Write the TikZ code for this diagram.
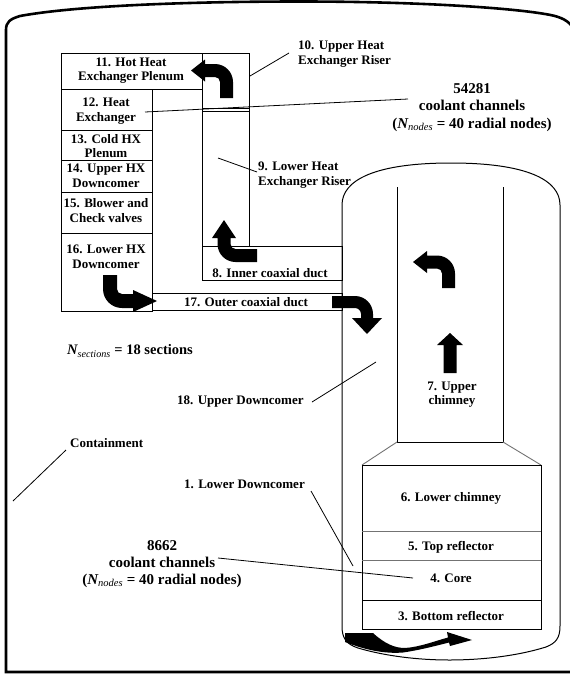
\documentclass[tikz,border=0pt]{standalone}
\usepackage{fontspec}
\setmainfont{Liberation Serif}
\newcommand\Nsub[1]{{\itshape N}\textsubscript{\mdseries\itshape #1}}
\begin{document}
\begin{tikzpicture}[x=1pt,y=-1pt,
  lbl/.style={font=\bfseries\fontsize{13}{14.5}\selectfont, inner sep=0pt, align=center},
  biglbl/.style={font=\bfseries\fontsize{15}{17.2}\selectfont, inner sep=0pt, align=center},
  flow/.style={fill=black, draw=none},
  wall/.style={draw=black, line width=1pt},
  thinwall/.style={draw=black, line width=0.7pt},
  grayline/.style={draw=black!55, line width=0.9pt},
  cont/.style={draw=black, line width=2.6pt},
  lead/.style={draw=black, line width=0.8pt}
]
\useasboundingbox (0,0) rectangle (570,675);
\clip (0,0) rectangle (570,675);

% containment
\draw[cont] (572,26) .. controls (566,19) and (558,16) .. (545,14)
  .. controls (510,8) and (420,1.5) .. (300,1.5)
  .. controls (200,1.5) and (80,5) .. (20,16)
  .. controls (10,19) and (6,22) .. (6,30) -- (6,672) -- (574,672);

% heat exchanger loop boxes
\draw[wall] (61,53) rectangle (202,89);
\draw[wall] (202,53) rectangle (249,246);
\draw[thinwall] (202,108) -- (249,108);
\draw[thinwall] (202,111) -- (249,111);
\draw[wall] (61,89) rectangle (152,130);
\draw[wall] (61,130) rectangle (152,160);
\draw[wall] (61,160) rectangle (152,192);
\draw[wall] (61,192) rectangle (152,233);
\draw[wall] (61,233) rectangle (152,311);
\draw[wall] (202,246) rectangle (342,280);
\draw[wall] (152,293) rectangle (342,310);

% vessel
\draw[wall] (342,626) -- (342,205) .. controls (342,180) and (375,163) .. (451,163)
  .. controls (527,163) and (560,180) .. (560,205) -- (560,626)
  .. controls (560,638) and (556,643) .. (546,647)
  .. controls (517,656) and (482,660) .. (449,660)
  .. controls (418,660) and (385,656) .. (358,648)
  .. controls (346,644) and (342,638) .. (342,626) -- cycle;
\draw[wall] (397,187) -- (397,442) -- (503,442) -- (503,187);
\draw[grayline] (397,442) -- (362,465);
\draw[grayline] (503,442) -- (541,465);
\draw[wall] (362,465) rectangle (541,629);
\draw[grayline] (362,531) -- (541,531);
\draw[grayline] (362,560) -- (541,560);
\draw[wall] (362,600) -- (541,600);

% flow arrows
\fill[flow] (220,98) -- (233,98) -- (233,82) .. controls (233,72.06) and (224.94,64) .. (215,64)
  -- (205,64) -- (205,59.5) -- (191,70.5) -- (205,81.5) -- (205,77) -- (215,77)
  .. controls (217.76,77) and (220,79.24) .. (220,82) -- cycle;
\fill[flow] (257,249) -- (257,262) -- (235.5,262) .. controls (225.56,262) and (217.5,253.94) .. (217.5,244)
  -- (217.5,238) -- (212,238) -- (224,220) -- (236,238) -- (230.5,238) -- (230.5,244)
  .. controls (230.5,246.76) and (232.74,249) .. (235.5,249) -- cycle;
\fill[flow] (103,275) -- (117,275) -- (117,289) .. controls (117,291.76) and (119.24,294) .. (122,294)
  -- (133,294) -- (133,290) -- (157,301) -- (133,312) -- (133,308) -- (122,308)
  .. controls (111.51,308) and (103,299.49) .. (103,289) -- cycle;
\fill[flow] (332,296) -- (355,296) .. controls (364.94,296) and (373,304.06) .. (373,314)
  -- (373,318) -- (382,318) -- (367,334) -- (352,318) -- (361,318) -- (361,314)
  .. controls (361,310.69) and (358.31,308) .. (355,308) -- (332,308) -- cycle;
\fill[flow] (442,288) -- (455,288) -- (455,273.5) .. controls (455,263.56) and (446.94,255.5) .. (437,255.5)
  -- (427,255.5) -- (427,251) -- (413,262) -- (427,273) -- (427,268.5) -- (437,268.5)
  .. controls (439.76,268.5) and (442,270.74) .. (442,273.5) -- cycle;
\fill[flow] (443.5,373) -- (456.5,373) -- (456.5,345) -- (463,345) -- (450,333) -- (437,345)
  -- (443.5,345) -- cycle;
\fill[flow] (345,633) -- (373,633) .. controls (385,644) and (395,648) .. (405,648)
  .. controls (420,647) and (435,641) .. (448,637.5) -- (447,632) -- (472,640) -- (450,646)
  -- (449,642.5) .. controls (435,646) and (420,650) .. (403,652.5)
  .. controls (385,654) and (365,650) .. (345,642) -- cycle;

% labels
\node[lbl] (t11) at (131,70.5) {11. Hot Heat\\Exchanger Plenum};
\node[lbl] (t12) at (106,111) {12. Heat\\Exchanger};
\node[lbl] (t13) at (106,146) {13. Cold HX\\Plenum};
\node[lbl] (t14) at (106,176) {14. Upper HX\\Downcomer};
\node[lbl] (t15) at (106,210.5) {15. Blower and\\Check valves};
\node[lbl] (t16) at (106,257) {16. Lower HX\\Downcomer};
\node[lbl] (t8) at (270,273) {8. Inner coaxial duct};
\node[lbl] (t17) at (246,302) {17. Outer coaxial duct};
\node[lbl, align=left, anchor=west] (t10) at (298,54) {10. Upper Heat\\Exchanger Riser};
\node[lbl, align=left, anchor=west] (t9) at (258,175) {9. Lower Heat\\Exchanger Riser};
\node[biglbl] (t54281) at (472,107.5) {54281\\coolant channels\\(\Nsub{nodes} = 40 radial nodes)};
\node[biglbl] (t8662) at (162,564) {8662\\coolant channels\\(\Nsub{nodes} = 40 radial nodes)};
\node[lbl, font=\bfseries\fontsize{14.5}{16}\selectfont, anchor=west] (tsec) at (67,351) {\Nsub{sections} = 18 sections};
\node[lbl, anchor=west] (t18) at (177,402) {18. Upper Downcomer};
\node[lbl, anchor=west] (tcont) at (70,443) {Containment};
\node[lbl, anchor=west] (t1) at (184,484) {1. Lower Downcomer};
\node[lbl] (t7) at (452,394.5) {7. Upper\\chimney};
\node[lbl] (t6) at (451,498) {6. Lower chimney};
\node[lbl] (t5) at (451,547) {5. Top reflector};
\node[lbl] (t4) at (451,578) {4. Core};
\node[lbl] (t3) at (451,616) {3. Bottom reflector};

% leader lines
\coordinate (l10a) at (250,76);  \coordinate (l10b) at (289,53);
\coordinate (l12a) at (145,112); \coordinate (l12b) at (408,99);
\coordinate (l9a) at (218,158);  \coordinate (l9b) at (257,172);
\coordinate (l18a) at (312,402); \coordinate (l18b) at (376,362);
\coordinate (lca) at (13,501);   \coordinate (lcb) at (66,450);
\coordinate (l1a) at (311,491);  \coordinate (l1b) at (353,566);
\coordinate (l86a) at (218,558); \coordinate (l86b) at (413,578);
\draw[lead] (l10a) -- (l10b);
\draw[lead] (l12a) -- (l12b);
\draw[lead] (l9a) -- (l9b);
\draw[lead] (l18a) -- (l18b);
\draw[lead] (lca) -- (lcb);
\draw[lead] (l1a) -- (l1b);
\draw[lead] (l86a) -- (l86b);
\end{tikzpicture}
\end{document}
